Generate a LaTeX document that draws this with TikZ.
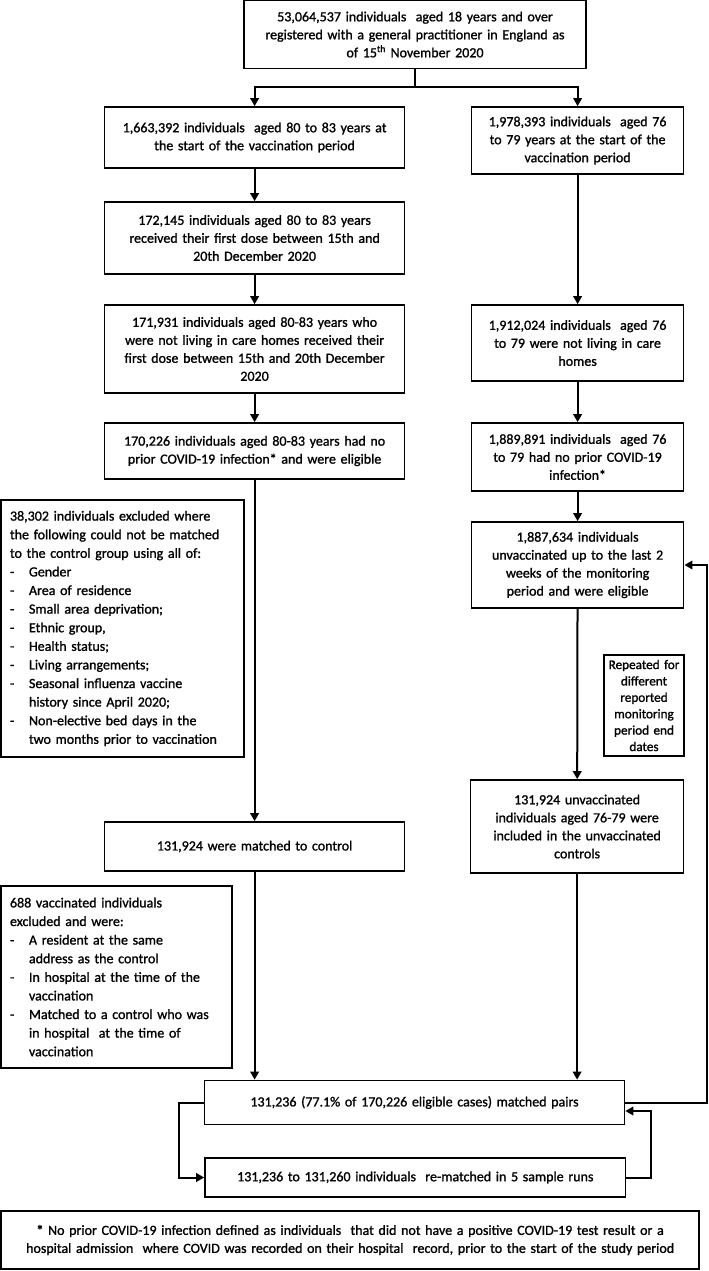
\documentclass[tikz,border=0pt]{standalone}
\usepackage{fontspec}
\setmainfont{Carlito}[FakeBold=1.2]
\usetikzlibrary{arrows.meta}
\newcommand\fs{\fontsize{14}{18}\selectfont}
\newcommand\fsl{\fontsize{14}{18.6}\selectfont}
\newcommand\fss{\fontsize{13.2}{16.4}\selectfont}
\newcommand\itm[1]{\makebox[19pt][l]{-}#1}
\newcommand\cnt[1]{\hspace*{19pt}#1}
\tikzset{
  box/.style={draw, line width=1.7pt, align=center, inner xsep=2pt, inner ysep=0pt, font=\fs},
  lbox/.style={draw, line width=1.7pt, align=left, inner xsep=9pt, inner ysep=0pt, font=\fsl},
  arr/.style={line width=2pt, -{Triangle[length=8pt,width=8.5pt]}}
}
\begin{document}
\begin{tikzpicture}[x=1pt,y=-1pt]
\useasboundingbox (0,0) rectangle (709,1271);
% top
\node[box, minimum width=342, minimum height=68, text width=336] (top) at (415,34.5)
 {53,064,537 individuals\ \ aged 18 years and over\\registered with a general practitioner in England as\\of 15\textsuperscript{th} November 2020};
% left column
\node[box, minimum width=300, minimum height=61, text width=294] (L1) at (254.6,137.5)
 {1,663,392 individuals\ \ aged 80 to 83 years at\\the start of the vaccination period};
\node[box, minimum width=300, minimum height=72, text width=294] (L2) at (254.6,238)
 {172,145 individuals aged 80 to 83 years\\received their first dose between 15th and\\20th December 2020};
\node[box, minimum width=300, minimum height=88, text width=294] (L3) at (254.6,349)
 {171,931 individuals aged 80-83 years who\\were not living in care homes received their\\first dose between 15th and 20th December\\2020};
\node[box, minimum width=300, minimum height=56, text width=294] (L4) at (254.6,451)
 {170,226 individuals aged 80-83 years had no\\prior COVID-19 infection* and were eligible};
\node[box, minimum width=300, minimum height=49, text width=294] (L5) at (254.6,846.5)
 {131,924 were matched to control};
% right column
\node[box, minimum width=212, minimum height=67, text width=206] (R1) at (577.6,140.5)
 {1,978,393 individuals\ \ aged 76\\to 79 years at the start of the\\vaccination period};
\node[box, minimum width=212, minimum height=76, text width=206] (R2) at (577.6,343)
 {1,912,024 individuals\ \ aged 76\\to 79 were not living in care\\homes};
\node[box, minimum width=212, minimum height=68, text width=206] (R3) at (577.6,457)
 {1,889,891 individuals\ \ aged 76\\to 79 had no prior COVID-19\\infection*};
\node[box, minimum width=212, minimum height=86, text width=206] (R4) at (577.6,565)
 {1,887,634 individuals\\unvaccinated up to the last 2\\weeks of the monitoring\\period and were eligible};
\node[box, font=\fss, minimum width=80, minimum height=101, text width=76] (Rep) at (644,705.5)
 {Repeated for\\different\\reported\\monitoring\\period end\\dates};
\node[box, minimum width=213, minimum height=93, text width=207] (R5) at (577.1,826.5)
 {131,924 unvaccinated\\individuals aged 76-79 were\\included in the unvaccinated\\controls};
% exclusion boxes
\node[lbox, minimum width=243, minimum height=257, text width=225] (E1) at (122.5,628.5)
 {38,302 individuals excluded where\\the following could not be matched\\to the control group using all of:\\
  \itm{Gender}\\\itm{Area of residence}\\\itm{Small area deprivation;}\\\itm{Ethnic group,}\\
  \itm{Health status;}\\\itm{Living arrangements;}\\\itm{Seasonal influenza vaccine}\\
  \cnt{history since April 2020;}\\\itm{Non-elective bed days in the}\\\cnt{two months prior to vaccination}};
\node[lbox, minimum width=231, minimum height=182, text width=213] (E2) at (116.5,977)
 {688 vaccinated individuals\\excluded and were:\\\itm{A resident at the same}\\\cnt{address as the control}\\
  \itm{In hospital at the time of the}\\\cnt{vaccination}\\\itm{Matched to a control who was}\\
  \cnt{in hospital\ \ at the time of}\\\cnt{vaccination}};
% bottom
\node[box, minimum width=420, minimum height=44, text width=414] (P) at (414.5,1102.5)
 {131,236 (77.1\% of 170,226 eligible cases) matched pairs};
\node[box, minimum width=420.5, minimum height=39, text width=414] (RM) at (415.3,1177.5)
 {131,236 to 131,260 individuals\ \ re-matched in 5 sample runs};
\node[box, minimum width=698, minimum height=58, text width=692] (F) at (350.2,1240)
 {\textbf{*} No prior COVID-19 infection defined as individuals\ \ that did not have a positive COVID-19 test result or a\\hospital admission\ \ where COVID was recorded on their hospital\ \ record, prior to the start of the study period};
% connectors
\coordinate (j) at (415,87);
\coordinate (fb) at (707,0);
\coordinate (lp) at (179.3,0);
\coordinate (rp) at (651,0);
\draw[arr] (top.south) -- (j) -| (L1.north);
\draw[arr] (j) -| (R1.north);
\draw[arr] (L1) -- (L2);
\draw[arr] (L2) -- (L3);
\draw[arr] (L3) -- (L4);
\draw[arr] (L4) -- (L5);
\draw[arr] (L5.south) -- (L5.south |- P.north);
\draw[arr] (R1) -- (R2);
\draw[arr] (R2) -- (R3);
\draw[arr] (R3) -- (R4);
\draw[arr] (R4) -- (R5);
\draw[arr] (R5.south) -- (R5.south |- P.north);
\draw[arr] (P.east) -- (P.east -| fb) |- (R4.east);
\draw[arr] (P.west) -- (P.west -| lp) |- (RM.west);
\draw[arr] (RM.east) -- (RM.east -| rp) |- ([yshift=-8.5pt]P.east);
\end{tikzpicture}
\end{document}
